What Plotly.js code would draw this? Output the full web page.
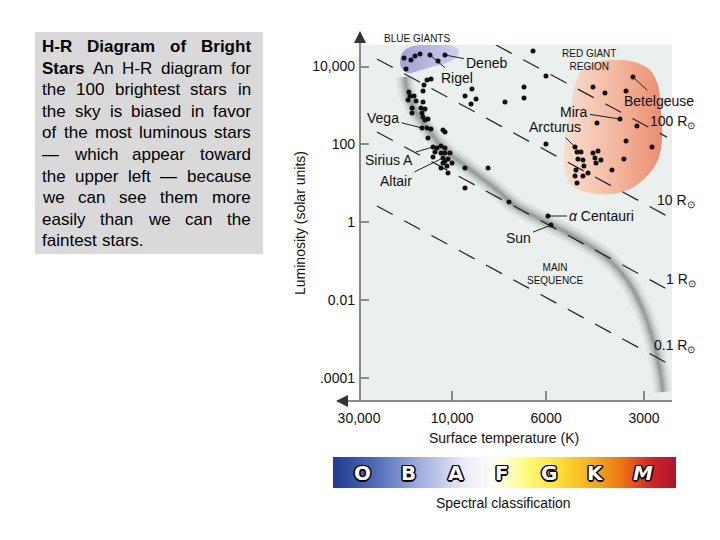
<!DOCTYPE html>
<html><head><meta charset="utf-8">
<script src="https://cdn.plot.ly/plotly-3.0.1.min.js"></script>
<style>html,body{margin:0;padding:0;background:#fff}</style>
</head><body><div id="chart" style="width:720px;height:540px"></div>
<script>
// ---------- DATA ----------
// x: position on the (non-linear) surface-temperature scale, y: log10 luminosity (solar units)
const xTickVals = [0, 0.98, 1.97, 3.0];
const xTickText = ["30,000", "10,000", "6000", "3000"];
const yTickVals = [4, 2, 0, -2, -4];
const yTickText = ["10,000", "100", "1", "0.01", ".0001"];

const starX = [
  0.474,0.547,0.589,0.642,0.747,0.832,0.905,
  0.495,0.716,0.758,0.684,0.674,0.526,0.537,0.579,0.516,0.600,0.674,0.558,0.653,0.695,0.558,0.663,0.674,0.726,0.695,0.663,0.716,0.758,0.884,0.905,0.726,
  0.779,0.821,0.863,0.905,0.800,0.863,0.905,0.958,0.779,0.884,0.937,0.905,0.884,0.979,0.926,0.863,0.937,
  1.116,1.358,1.116,1.579,1.189,1.116,1.232,1.179,1.537,1.737,1.737,1.832,1.968,1.968,1.989,2.021,
  2.884,2.463,2.589,2.811,2.747,2.505,2.926,2.811,3.084,2.789,2.663,2.274,2.295,2.337,2.305,2.358,2.368,2.284,2.411,2.274,2.358,2.295,2.463,2.516,2.484,2.547,2.495
];
const starLogL = [
  4.222,4.170,4.273,4.324,4.298,4.144,4.298,
  3.939,3.655,3.681,3.526,3.372,3.346,3.243,3.243,3.140,3.115,3.089,2.935,2.935,2.909,2.806,2.806,2.703,2.652,2.626,2.420,2.420,2.394,2.369,2.317,2.163,
  1.932,1.906,1.957,1.906,1.803,1.777,1.777,1.777,1.675,1.649,1.623,1.572,1.520,1.520,1.443,1.392,1.263,
  1.392,1.392,0.877,0.517,3.423,3.243,3.166,3.037,3.089,3.475,3.192,4.401,3.758,2.009,0.157,-0.075,
  3.732,3.475,3.321,3.372,2.652,2.549,2.472,2.086,1.932,1.623,1.340,1.932,1.803,1.803,1.623,1.598,1.443,1.340,1.263,1.186,1.186,1.006,1.777,1.829,1.649,1.598,1.520
];

const bandX    = [0.484,0.516,0.621,0.747,0.905,1.095,1.274,1.453,1.621,1.821,2.032,2.326,2.611,2.821,2.989,3.095,3.168,3.200];
const bandLogL = [3.732,3.269,2.755,2.317,1.854,1.494,1.160,0.826,0.466,0.183,-0.075,-0.460,-0.923,-1.489,-2.261,-3.032,-3.804,-4.370];

const radiusLabels    = ["100 R<sub>⊙</sub>", "10 R<sub>⊙</sub>", "1 R<sub>⊙</sub>", "0.1 R<sub>⊙</sub>"];
const radiusStartX    = [1.442, 0.189, 0.189, 0.189];
const radiusStartLogL = [4.555, 4.195, 2.317, 0.414];
const radiusEndX      = [3.242, 3.242, 3.242, 3.242];
const radiusEndLogL   = [2.186, 0.157, -1.721, -3.624];

const blueGiantX    = [0.432,0.463,0.537,0.663,0.832,0.979,1.053,1.021,0.916,0.768,0.621,0.516,0.453,0.432];
const blueGiantLogL = [4.118,4.375,4.504,4.555,4.555,4.540,4.401,4.222,4.093,3.990,3.887,3.835,3.939,4.118];

const redGiantX    = [2.347,2.495,2.695,2.905,3.063,3.147,3.179,3.189,3.147,3.042,2.874,2.663,2.432,2.242,2.168,2.158,2.189,2.242,2.284,2.347];
const redGiantLogL = [3.912,4.118,4.170,4.118,3.912,3.526,2.883,2.112,1.597,1.211,0.877,0.723,0.748,0.928,1.289,1.854,2.497,3.140,3.603,3.912];

const namedStars = ["Deneb","Rigel","Vega","Sirius A","Altair","Mira","Arcturus","Betelgeuse","<i>α</i> Centauri","Sun"];
const namedX     = [0.905,0.747,0.663,0.779,0.884,2.747,2.274,2.884,1.989,2.021];
const namedLogL  = [4.298,4.298,2.420,1.932,1.649,2.652,1.932,3.732,0.157,-0.075];

const spectralClasses = ["O","B","A","F","G","K","M"];

const captionLines = [
  "H-R Diagram of Bright",
  "Stars An H-R diagram for",
  "the 100 brightest stars in",
  "the sky is biased in favor",
  "of the most luminous stars",
  "— which appear toward",
  "the upper left — because",
  "we can see them more",
  "easily than we can the",
  "faintest stars."
];
const boldWordCount = 5;

// ---------- LAYOUT HELPERS ----------
const W = 720, H = 540;
const px = v => v / W;
const py = v => 1 - v / H;
const FONT = "Liberation Sans, Arial, sans-serif";

const traces = [];
// red giant region
traces.push({type:'scatter', mode:'lines', x:redGiantX, y:redGiantLogL, fill:'toself',
  line:{width:0, shape:'spline', smoothing:1},
  fillgradient:{type:'horizontal', colorscale:[[0,'rgb(249,222,206)'],[0.5,'rgb(244,186,162)'],[1,'rgb(236,140,110)']]},
  hoverinfo:'skip', showlegend:false});
// blue giant region
traces.push({type:'scatter', mode:'lines', x:blueGiantX, y:blueGiantLogL, fill:'toself',
  line:{width:0, shape:'spline', smoothing:1},
  fillgradient:{type:'horizontal', colorscale:[[0,'rgb(160,160,214)'],[1,'rgb(208,208,236)']]},
  hoverinfo:'skip', showlegend:false});
// main sequence band (soft gray)
[[18,'rgba(175,183,179,0.18)'],[13,'rgba(160,168,164,0.22)'],[9,'rgba(145,153,149,0.30)'],[5,'rgba(130,138,134,0.35)'],[2.5,'rgba(120,128,124,0.35)']].forEach(([w,c]) => {
  traces.push({type:'scatter', mode:'lines', x:bandX, y:bandLogL,
    line:{width:w, color:c, shape:'spline', smoothing:1}, hoverinfo:'skip', showlegend:false});
});
// constant-radius dashed lines
radiusLabels.forEach((r, i) => {
  traces.push({type:'scatter', mode:'lines', x:[radiusStartX[i], radiusEndX[i]], y:[radiusStartLogL[i], radiusEndLogL[i]],
    line:{width:1.2, color:'#222', dash:'18px,13px'}, hoverinfo:'skip', showlegend:false});
});
// stars
traces.push({type:'scatter', mode:'markers', x:starX, y:starLogL,
  marker:{size:5, color:'#111'}, hoverinfo:'skip', showlegend:false});
// spectral classification bar
traces.push({type:'scatter', mode:'lines', x:[-0.62,6.71,6.71,-0.62,-0.62], y:[0,0,1,1,0], xaxis:'x2', yaxis:'y2',
  fill:'toself', line:{width:0},
  fillgradient:{type:'horizontal', colorscale:[
    [0,'rgb(32,58,145)'],[0.12,'rgb(80,105,182)'],[0.25,'rgb(158,172,222)'],[0.38,'rgb(232,234,250)'],
    [0.47,'rgb(255,255,245)'],[0.57,'rgb(255,250,120)'],[0.66,'rgb(252,222,55)'],[0.75,'rgb(245,178,30)'],
    [0.84,'rgb(238,118,20)'],[0.93,'rgb(212,35,38)'],[1,'rgb(170,22,45)']]},
  hoverinfo:'skip', showlegend:false});

const annotations = [];
// named star pointers (label positions in chart units)
const labelAt = {
  "Deneb":[1.347,4.091], "Rigel":[1.032,3.704], "Vega":[0.253,2.677], "Sirius A":[0.316,1.597],
  "Altair":[0.389,1.057], "Mira":[2.263,2.832], "Arcturus":[2.063,2.446], "Betelgeuse":[3.158,3.115],
  "<i>α</i> Centauri":[2.558,0.157], "Sun":[1.674,-0.409]
};
namedStars.forEach((n, i) => {
  annotations.push({xref:'x', yref:'y', axref:'x', ayref:'y', x:namedX[i], y:namedLogL[i],
    ax:labelAt[n][0], ay:labelAt[n][1], text:n, showarrow:true, arrowhead:0, arrowwidth:1,
    arrowcolor:'#222', standoff:2, borderpad:2, font:{family:FONT, size:14, color:'#111'}});
});
// radius labels
const radiusLabelAt = [[3.042,2.575],[3.116,0.543],[3.211,-1.494],[3.084,-3.192]];
radiusLabels.forEach((r, i) => {
  annotations.push({xref:'x', yref:'y', x:radiusLabelAt[i][0], y:radiusLabelAt[i][1], xanchor:'left', yanchor:'middle',
    text:r, showarrow:false, font:{family:FONT, size:14, color:'#111'}});
});
// region labels
const small = {family:FONT, size:10, color:'#111'};
const centered = (x, y, text, font, extra) => Object.assign({xref:'paper', yref:'paper', x:px(x), y:py(y),
  xanchor:'center', yanchor:'middle', text, showarrow:false, font}, extra || {});
annotations.push(centered(417, 38, 'BLUE GIANTS', small));
annotations.push(centered(589, 60, 'RED GIANT<br>REGION', small));
annotations.push(centered(555, 274, 'MAIN<br>SEQUENCE', small));
// axis titles
const titleFont = {family:FONT, size:14, color:'#111'};
annotations.push(centered(300, 223, 'Luminosity (solar units)', titleFont, {textangle:-90}));
annotations.push(centered(504, 438, 'Surface temperature (K)', titleFont));
annotations.push(centered(504, 503, 'Spectral classification', titleFont));
// axis arrowheads
annotations.push({xref:'paper', yref:'paper', x:px(360), y:py(31), ax:0, ay:12, text:'', showarrow:true,
  arrowhead:2, arrowsize:1.2, arrowwidth:2, arrowcolor:'#333'});
annotations.push({xref:'paper', yref:'paper', x:px(336), y:py(401), ax:12, ay:0, text:'', showarrow:true,
  arrowhead:2, arrowsize:1.2, arrowwidth:2, arrowcolor:'#333'});
// spectral class letters
spectralClasses.forEach((c, i) => {
  annotations.push({xref:'x2', yref:'y2', x:i, y:0.5, xanchor:'center', yanchor:'middle', text:'<b>' + c + '</b>', showarrow:false,
    font:{family:'DejaVu Sans, sans-serif', size:20, color:'#fff', style: c === 'M' ? 'italic' : 'normal',
      shadow:'-1px -1px 0 #000, 1px -1px 0 #000, -1px 1px 0 #000, 1px 1px 0 #000, 0 1.5px 0 #000, 0 -1.5px 0 #000, 1.5px 0 0 #000, -1.5px 0 0 #000'}});
});

// caption, justified word by word
const cvs = document.createElement('canvas');
const ctx = cvs.getContext('2d');
const capSize = 17, capL = 42, capR = 251, capTop = 47, capStep = 21.5;
let wordIdx = 0;
captionLines.forEach((line, li) => {
  const words = line.split(' ');
  const bold = words.map((w, k) => (wordIdx + k) < boldWordCount);
  const widths = words.map((w, k) => {
    ctx.font = (bold[k] ? 'bold ' : '') + capSize + 'px "Liberation Sans"';
    return ctx.measureText(w).width;
  });
  ctx.font = capSize + 'px "Liberation Sans"';
  const space = ctx.measureText(' ').width;
  const total = widths.reduce((a, b) => a + b, 0);
  const last = li === captionLines.length - 1;
  const gap = (last || words.length < 2) ? space : (capR - capL - total) / (words.length - 1);
  let xPos = capL;
  words.forEach((w, k) => {
    annotations.push({xref:'paper', yref:'paper', x:px(xPos - 1), y:py(capTop + li * capStep), xanchor:'left', yanchor:'middle',
      text: bold[k] ? '<b>' + w + '</b>' : w, showarrow:false, borderpad:0,
      font:{family:FONT, size:capSize, color:'#000'}});
    xPos += widths[k] + gap;
  });
  wordIdx += words.length;
});

const shapes = [
  {type:'rect', xref:'paper', yref:'paper', x0:px(35), x1:px(263), y0:py(254), y1:py(32),
   fillcolor:'rgb(217,217,217)', line:{width:0}, layer:'below'},
  {type:'line', xref:'paper', yref:'paper', x0:px(360), x1:px(360), y0:py(402), y1:py(38),
   line:{color:'#8a8a8a', width:2}},
  {type:'line', xref:'paper', yref:'paper', x0:px(344), x1:px(672), y0:py(401), y1:py(401),
   line:{color:'#8a8a8a', width:2}}
];

const layout = {
  width: W, height: H, autosize:false,
  margin:{l:0, r:0, t:0, b:0, pad:0},
  paper_bgcolor:'#fff', plot_bgcolor:'rgb(233,240,237)',
  showlegend:false, hovermode:false,
  font:{family:FONT, size:14, color:'#111'},
  xaxis:{domain:[px(359), px(672)], range:[0, 3.295], showgrid:false, zeroline:false, showline:false,
    ticks:'inside', ticklen:10, tickwidth:2, tickcolor:'#8a8a8a', ticklabelstandoff:7,
    tickmode:'array', tickvals:xTickVals, ticktext:xTickText, tickfont:{family:FONT, size:14, color:'#111'}, fixedrange:true},
  yaxis:{domain:[py(401), py(45)], range:[-4.601, 4.555], showgrid:false, zeroline:false, showline:false,
    ticks:'inside', ticklen:10, tickwidth:2, tickcolor:'#8a8a8a', ticklabelstandoff:3,
    tickmode:'array', tickvals:yTickVals, ticktext:yTickText, tickfont:{family:FONT, size:14, color:'#111'}, fixedrange:true},
  xaxis2:{domain:[px(333), px(676)], range:[-0.62, 6.71], visible:false, anchor:'y2', fixedrange:true},
  yaxis2:{domain:[py(488), py(457)], range:[0, 1], visible:false, anchor:'x2', fixedrange:true},
  shapes: shapes,
  annotations: annotations
};

Plotly.newPlot('chart', traces, layout, {staticPlot:true, displayModeBar:false});
</script>
</body></html>
